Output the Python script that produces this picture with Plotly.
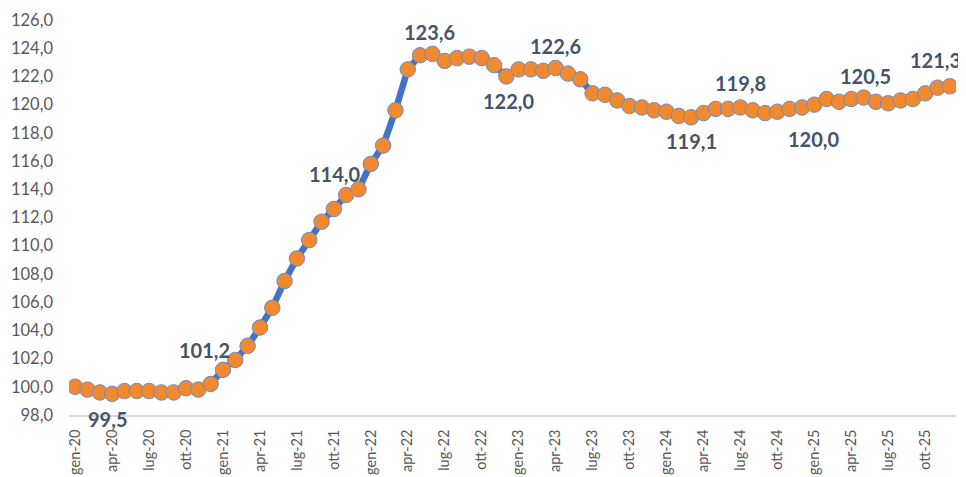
import plotly.graph_objects as go

# ----------------------------
# dati (indice mensile, gen-20 = 100)
# ----------------------------
mesi = ['gen', 'feb', 'mar', 'apr', 'mag', 'giu', 'lug', 'ago', 'set', 'ott', 'nov', 'dic']
anni = ['20', '21', '22', '23', '24', '25']
periodi = [f"{m}-{a}" for a in anni for m in mesi]

valori = [
    100.0, 99.8, 99.6, 99.5, 99.7, 99.7, 99.7, 99.6, 99.6, 99.9, 99.8, 100.2,
    101.2, 101.9, 102.9, 104.2, 105.6, 107.5, 109.1, 110.4, 111.7, 112.6, 113.6, 114.0,
    115.8, 117.1, 119.6, 122.5, 123.5, 123.6, 123.1, 123.3, 123.4, 123.3, 122.8, 122.0,
    122.5, 122.5, 122.4, 122.6, 122.2, 121.8, 120.8, 120.7, 120.3, 119.9, 119.8, 119.6,
    119.5, 119.2, 119.1, 119.4, 119.7, 119.7, 119.8, 119.6, 119.4, 119.5, 119.7, 119.8,
    120.0, 120.4, 120.2, 120.4, 120.5, 120.2, 120.1, 120.3, 120.4, 120.8, 121.2, 121.3,
]

# etichette dati evidenziate
idx_etichette = [3, 12, 23, 29, 35, 39, 50, 54, 60, 64, 71]
# spostamento etichette (pixel)
shift_x = [-5, -18, -24, -3, 2, 0, 0, 0, -1, 2, -14]
shift_y = [-25, 20, 15, 22, -25, 22, -24, 24, -34, 22, 26]

tick_idx = list(range(0, 72, 3))

fig = go.Figure()

fig.add_trace(go.Scatter(
    x=list(range(len(valori))), y=valori,
    mode='lines+markers',
    line=dict(color='#4472C4', width=6.5),
    marker=dict(size=15.5, color='#F18A2F', line=dict(color='#6A8BCB', width=1)),
    hoverinfo='skip',
))

for i, dx, dy in zip(idx_etichette, shift_x, shift_y):
    fig.add_annotation(
        x=i, y=valori[i],
        text=f"{valori[i]:.1f}".replace('.', ','),
        showarrow=False,
        xshift=dx, yshift=dy,
        font=dict(family='Lato', size=20, color='#44546A', weight='bold'),
    )

# la pagina ha 8px di margine sul body
fig.update_layout(
    width=958, height=469,
    margin=dict(l=61, r=10, t=12, b=62),
    plot_bgcolor='white', paper_bgcolor='white',
    showlegend=False,
    separators=',.',
    font=dict(family='Lato', color='#595959'),
)

fig.update_xaxes(
    range=[-0.5, 71.5], automargin=False,
    tickmode='array', tickvals=tick_idx, ticktext=[periodi[i] for i in tick_idx],
    tickangle=-90, tickfont=dict(size=14.5, color='#595959'),
    showline=True, linecolor='#D9D9D9', linewidth=1.5,
    showgrid=False, zeroline=False, ticks='',
    ticklabelstandoff=7,
)

fig.update_yaxes(
    range=[98, 126], dtick=2, tickformat='.1f', automargin=False,
    tickfont=dict(size=16.5, color='#595959'),
    showline=False, showgrid=False, zeroline=False, ticks='',
    ticklabelstandoff=15,
)

fig.write_html("out.html")
